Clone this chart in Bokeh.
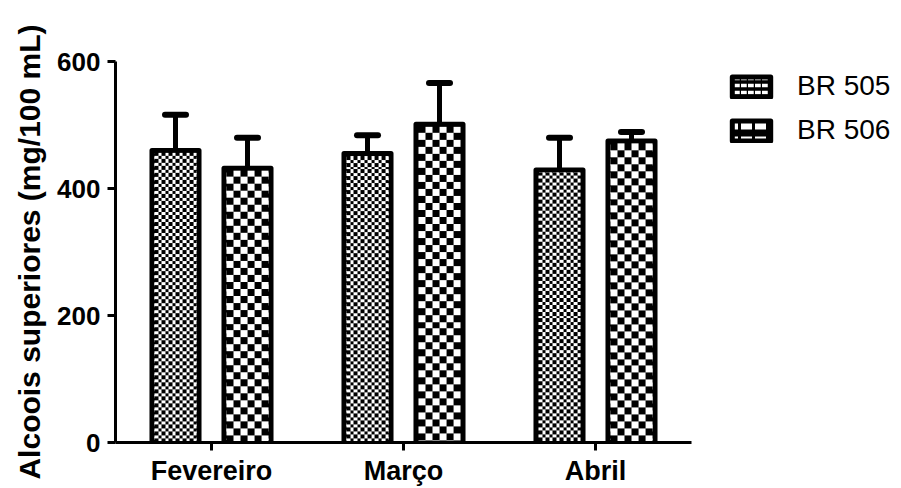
import numpy as np
from bokeh.plotting import figure
from bokeh.models import (ColumnDataSource, Range1d, FixedTicker, Whisker,
                          TeeHead, Legend, LegendItem)
from bokeh.embed import file_html
from bokeh.resources import INLINE

# ---- data ----
months = ["Fevereiro", "Março", "Abril"]
series_names = ["BR 505", "BR 506"]
br505 = [460, 455, 429]
br505_err = [56, 29, 51]
br506 = [432, 501, 475]
br506_err = [48, 65, 14]
y_ticks = [0, 200, 400, 600]
y_label = "Alcoois superiores (mg/100 mL)"

# ---- layout constants (pixels) ----
W, H = 901, 488
B_LEFT, B_TOP, B_BOTTOM = 115, 61, 44
AXIS_RIGHT = 691                      # where the category axis ends
cat_px = (AXIS_RIGHT - B_LEFT) / len(months)
x_end = len(months) - 0.5 + (W - AXIS_RIGHT) / cat_px
px_x = cat_px                          # px per x unit
px_y = (H - B_TOP - B_BOTTOM) / y_ticks[-1]   # px per y unit

xpos = list(range(len(months)))
off = 0.1875
bw = 0.245
lw = 5

p = figure(x_range=Range1d(-0.5, x_end), y_range=Range1d(0, y_ticks[-1]),
           width=W, height=H, output_backend="svg", toolbar_location=None,
           min_border_left=B_LEFT, min_border_right=0, min_border_top=B_TOP,
           min_border_bottom=B_BOTTOM)
p.outline_line_color = None
p.xgrid.grid_line_color = None
p.ygrid.grid_line_color = None
p.background_fill_color = "white"


def checker_images(values, xs, cell):
    """Checkerboard raster that fills the inside of each bar (1 array px ~ 1 screen px)."""
    ix = (lw / 2) / px_x
    iy = (lw / 2) / px_y
    imgs, x0, dw, dh = [], [], [], []
    for v, x in zip(values, xs):
        w_d = bw - 2 * ix
        h_d = v - iy
        nx = max(1, int(round(w_d * px_x)))
        ny = max(1, int(round(h_d * px_y)))
        jj, ii = np.mgrid[0:ny, 0:nx]
        black = ((np.floor(ii / cell) + np.floor((ny - 1 - jj) / cell)) % 2) == 0
        img = np.where(black, np.uint32(0xFF000000), np.uint32(0xFFFFFFFF)).astype(np.uint32)
        imgs.append(img)
        x0.append(x - bw / 2 + ix)
        dw.append(w_d)
        dh.append(h_d)
    return dict(image=imgs, x=x0, y=[0] * len(values), dw=dw, dh=dh)


series = [
    (series_names[0], br505, br505_err, -off, 3.5, 7),
    (series_names[1], br506, br506_err, off, 7, 14),
]
items = []
for name, vals, errs, o, cell, hscale in series:
    xs = [v + o for v in xpos]
    src = ColumnDataSource(dict(x=xs, value=vals, upper=[v + e for v, e in zip(vals, errs)]))
    w = Whisker(base="x", lower="value", upper="upper",
                source=src, dimension="height", line_width=5, line_color="black",
                upper_head=TeeHead(size=21, line_width=6, line_cap="round", line_color="black"),
                lower_head=None, level="underlay")
    p.add_layout(w)
    r = p.vbar(x="x", top="value", width=bw, bottom=0, source=src,
               fill_color="black", line_color="black", line_width=lw, line_join="round",
               hatch_pattern="horizontal_dash", hatch_color="white", hatch_scale=hscale,
               hatch_weight=hscale / 2)
    p.image_rgba(source=ColumnDataSource(checker_images(vals, xs, cell)),
                 image="image", x="x", y="y", dw="dw", dh="dh")
    items.append(LegendItem(label=name, renderers=[r]))

font = "Liberation Sans"
ya = p.yaxis[0]
ya.ticker = FixedTicker(ticks=y_ticks)
ya.axis_line_width = 3
ya.major_tick_line_width = 3
ya.major_tick_out = 8
ya.major_tick_in = 0
ya.minor_tick_line_color = None
ya.major_label_text_font = font
ya.major_label_text_font_style = "bold"
ya.major_label_text_font_size = "26px"
ya.major_label_text_color = "black"
ya.major_label_standoff = 7
ya.axis_label = y_label
ya.axis_label_text_font = font
ya.axis_label_text_font_style = "bold"
ya.axis_label_text_font_size = "30px"
ya.axis_label_text_color = "black"
ya.axis_label_standoff = 8

xa = p.xaxis[0]
xa.ticker = FixedTicker(ticks=xpos)
xa.major_label_overrides = {i: m for i, m in zip(xpos, months)}
xa.bounds = (-0.5, len(months) - 0.5)
xa.axis_line_width = 3
xa.major_tick_line_width = 3
xa.major_tick_out = 8
xa.major_tick_in = 0
xa.minor_tick_line_color = None
xa.major_label_text_font = font
xa.major_label_text_font_style = "bold"
xa.major_label_text_font_size = "27px"
xa.major_label_text_color = "black"
xa.major_label_standoff = 5

legend = Legend(items=items, location=(612, 296))
legend.glyph_width = 48
legend.glyph_height = 25
legend.label_text_font = font
legend.label_text_font_size = "28px"
legend.label_text_color = "black"
legend.label_standoff = 22
legend.spacing = 12
legend.padding = 0
legend.margin = 0
legend.border_line_alpha = 0
legend.background_fill_alpha = 0
p.add_layout(legend, "center")

open("out.html", "w").write(file_html(p, INLINE))
